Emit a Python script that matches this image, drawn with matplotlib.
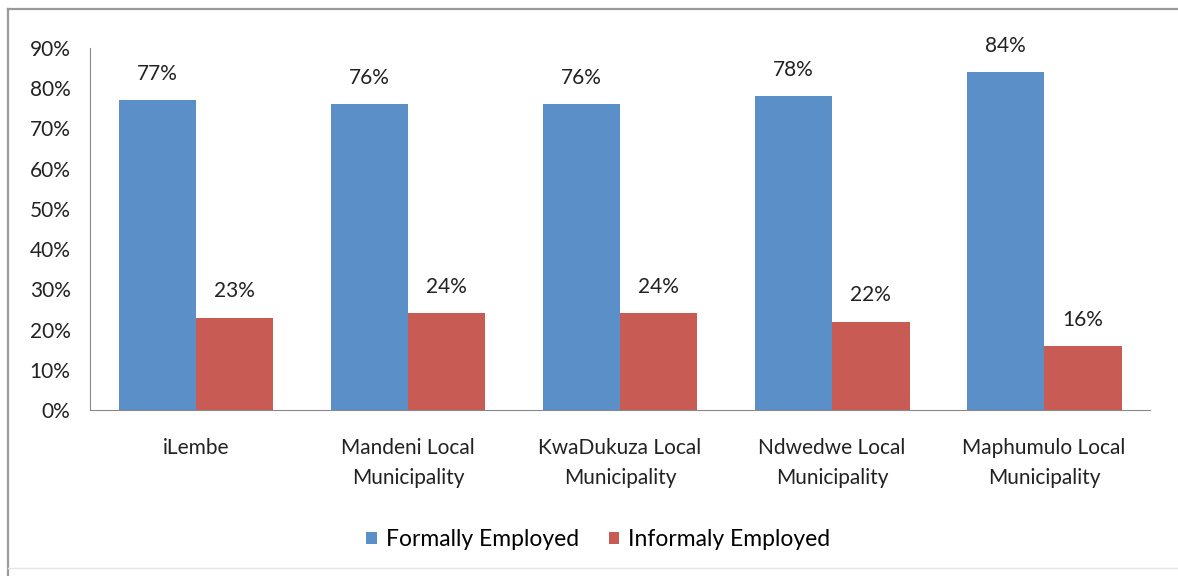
import numpy as np
import matplotlib.pyplot as plt
from matplotlib.lines import Line2D

categories = ["iLembe", "Mandeni Local\nMunicipality", "KwaDukuza Local\nMunicipality",
              "Ndwedwe Local\nMunicipality", "Maphumulo Local\nMunicipality"]
formal = [77, 76, 76, 78, 84]
informal = [23, 24, 24, 22, 16]
series_names = ["Formally Employed", "Informaly Employed"]

plt.rcParams['font.family'] = ['Lato', 'DejaVu Sans']

fig = plt.figure(figsize=(11.78, 5.76), dpi=100)
ax = fig.add_axes([0.0764, 0.288, 0.9, 0.629])

# chart frame: left and top edges, faint bottom edge
fig.add_artist(Line2D([0.007, 0.007], [0.0, 0.984], transform=fig.transFigure,
                      color='#9a9a9a', linewidth=1.6))
fig.add_artist(Line2D([0.007, 1.0], [0.984, 0.984], transform=fig.transFigure,
                      color='#9a9a9a', linewidth=1.6))
fig.add_artist(Line2D([0.007, 1.0], [0.014, 0.014], transform=fig.transFigure,
                      color='#e4e4e4', linewidth=1.0))

x = np.arange(len(categories))
w = 0.365
b1 = ax.bar(x - w / 2, formal, w, color='#5b8fc7', label=series_names[0])
b2 = ax.bar(x + w / 2, informal, w, color='#c95b55', label=series_names[1])

for bars, vals in ((b1, formal), (b2, informal)):
    for rect, v in zip(bars, vals):
        ax.text(rect.get_x() + rect.get_width() / 2, v + 4, f"{v}%",
                ha='center', va='bottom', fontsize=15, color='#222222')

ax.set_xlim(-0.5, len(categories) - 0.5)
ax.set_ylim(0, 90)
ax.set_yticks(range(0, 91, 10))
ax.set_yticklabels([f"{t}%" for t in range(0, 91, 10)], fontsize=15, color='#222222')
ax.set_xticks(x)
ax.set_xticklabels(categories, fontsize=15, color='#222222', linespacing=1.65)
ax.tick_params(axis='y', length=0, pad=14)
ax.tick_params(axis='x', length=0, pad=20)
for s in ('top', 'right'):
    ax.spines[s].set_visible(False)
ax.spines['left'].set_color('#888888')
ax.spines['bottom'].set_color('#888888')

fig.legend(loc='center', bbox_to_anchor=(0.508, 0.063), ncol=2, frameon=False,
           fontsize=16.5, handlelength=0.45, handleheight=0.45, columnspacing=1.3,
           handletextpad=0.4)

fig.savefig('out.png', dpi=100)
